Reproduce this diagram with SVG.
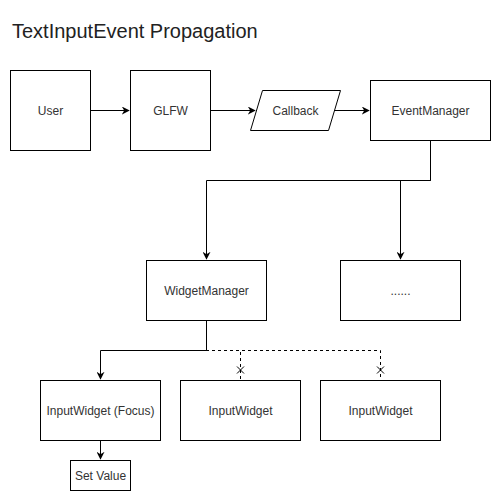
<svg xmlns="http://www.w3.org/2000/svg" width="502" height="502" viewBox="0 0 502 502">
<style>
.box{fill:#fff;stroke:#000;stroke-width:1}
.lbl{font-family:"Liberation Sans",Arial,sans-serif;font-size:12px;fill:#333;text-anchor:middle;dominant-baseline:central}
.title{font-family:"Liberation Sans",Arial,sans-serif;font-size:20px;fill:#222}
.edge{fill:none;stroke:#000;stroke-width:1}
.dash{stroke-dasharray:3 3}
</style>
<defs>
<marker id="arr" viewBox="0 0 10 10" refX="9" refY="5" markerWidth="8" markerHeight="8" markerUnits="userSpaceOnUse" orient="auto">
<path d="M0,0 L10,5 L0,10 L3,5 Z" fill="#000"/>
</marker>
<marker id="cross" viewBox="0 0 16 10" refX="15" refY="5" markerWidth="16" markerHeight="10" markerUnits="userSpaceOnUse" orient="auto">
<path d="M1.5,1.5 L8.5,8.5 M1.5,8.5 L8.5,1.5" stroke="#000" stroke-width="1" fill="none"/>
</marker>
</defs>
<rect width="502" height="502" fill="#fff"/>
<text class="title" x="12" y="38">TextInputEvent Propagation</text>
<g id="connectors">
<path class="edge" d="M90.5,110.5 H129" marker-end="url(#arr)"/>
<path class="edge" d="M210.5,110.5 H255" marker-end="url(#arr)"/>
<path class="edge" d="M334,110.5 H369" marker-end="url(#arr)"/>
<path class="edge" d="M430.5,140 V180.5 H206.5 V259" marker-end="url(#arr)"/>
<path class="edge" d="M430.5,140 V180.5 H400.5 V259" marker-end="url(#arr)"/>
<path class="edge" d="M206.5,320 V350.5 H100.5 V379" marker-end="url(#arr)"/>
<path class="edge dash" d="M206.5,320 V350.5 H240.5 V380" marker-end="url(#cross)"/>
<path class="edge dash" d="M206.5,320 V350.5 H380.5 V380" marker-end="url(#cross)"/>
<path class="edge" d="M100.5,440 V459" marker-end="url(#arr)"/>
</g>
<g id="user"><rect class="box" x="10.5" y="70.5" width="80" height="80"/><text class="lbl" x="50.5" y="110.5">User</text></g>
<g id="glfw"><rect class="box" x="130.5" y="70.5" width="80" height="80"/><text class="lbl" x="170.5" y="110.5">GLFW</text></g>
<g id="callback"><path class="box" d="M262.5,90.5 H340.5 L328.5,130.5 H250.5 Z"/><text class="lbl" x="295.5" y="110.5">Callback</text></g>
<g id="eventmanager"><rect class="box" x="370.5" y="80.5" width="120" height="60"/><text class="lbl" x="430.5" y="110.5">EventManager</text></g>
<g id="widgetmanager"><rect class="box" x="146.5" y="260.5" width="120" height="60"/><text class="lbl" x="206.5" y="290.5">WidgetManager</text></g>
<g id="other"><rect class="box" x="340.5" y="260.5" width="120" height="60"/><text class="lbl" x="400.5" y="290.5">......</text></g>
<g id="inputwidget-focus"><rect class="box" x="40.5" y="380.5" width="120" height="60"/><text class="lbl" x="100.5" y="410.5">InputWidget (Focus)</text></g>
<g id="inputwidget-2"><rect class="box" x="180.5" y="380.5" width="120" height="60"/><text class="lbl" x="240.5" y="410.5">InputWidget</text></g>
<g id="inputwidget-3"><rect class="box" x="320.5" y="380.5" width="120" height="60"/><text class="lbl" x="380.5" y="410.5">InputWidget</text></g>
<g id="setvalue"><rect class="box" x="70.5" y="460.5" width="60" height="30"/><text class="lbl" x="100.5" y="475.5">Set Value</text></g>
</svg>
